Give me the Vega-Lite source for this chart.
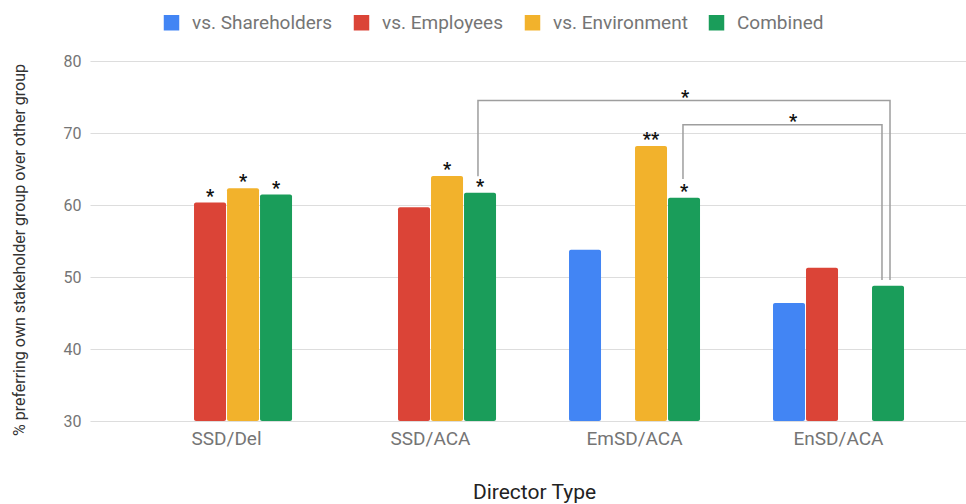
{
  "$schema": "https://vega.github.io/schema/vega-lite/v6.json",
  "width": 876,
  "height": 360,
  "autosize": {"type": "none"},
  "padding": {"left": 90, "top": 61, "right": 0, "bottom": 83},
  "background": "white",
  "config": {"view": {"stroke": null}, "font": "Roboto"},
  "datasets": {
    "bars": [
      {"director": "SSD/Del", "series": "vs. Employees", "value": 60.33, "sig": "*"},
      {"director": "SSD/Del", "series": "vs. Environment", "value": 62.33, "sig": "*"},
      {"director": "SSD/Del", "series": "Combined", "value": 61.45, "sig": "*"},
      {"director": "SSD/ACA", "series": "vs. Employees", "value": 59.7, "sig": ""},
      {"director": "SSD/ACA", "series": "vs. Environment", "value": 64.04, "sig": "*"},
      {"director": "SSD/ACA", "series": "Combined", "value": 61.7, "sig": "*"},
      {"director": "EmSD/ACA", "series": "vs. Shareholders", "value": 53.8, "sig": ""},
      {"director": "EmSD/ACA", "series": "vs. Environment", "value": 68.2, "sig": "**"},
      {"director": "EmSD/ACA", "series": "Combined", "value": 61.0, "sig": "*"},
      {"director": "EnSD/ACA", "series": "vs. Shareholders", "value": 46.4, "sig": ""},
      {"director": "EnSD/ACA", "series": "vs. Employees", "value": 51.3, "sig": ""},
      {"director": "EnSD/ACA", "series": "Combined", "value": 48.8, "sig": ""}
    ],
    "brackets": [
      {"b": "B1", "ord": 1, "u": 1.2328, "value": 64.0},
      {"b": "B1", "ord": 2, "u": 1.2328, "value": 74.5},
      {"b": "B1", "ord": 3, "u": 3.2525, "value": 74.5},
      {"b": "B1", "ord": 4, "u": 3.2525, "value": 49.6},
      {"b": "B2", "ord": 1, "u": 2.2377, "value": 63.6},
      {"b": "B2", "ord": 2, "u": 2.2377, "value": 71.16},
      {"b": "B2", "ord": 3, "u": 3.2132, "value": 71.16},
      {"b": "B2", "ord": 4, "u": 3.2132, "value": 49.6}
    ],
    "stars": [
      {"u": 2.2475, "value": 75.44, "t": "*"},
      {"u": 2.777, "value": 72.1, "t": "*"}
    ]
  },
  "layer": [
    {
      "data": {"name": "bars"},
      "layer": [
        {
          "mark": {"type": "bar", "cornerRadius": 2},
          "encoding": {
            "x": {
              "field": "director", "type": "nominal",
              "sort": ["SSD/Del", "SSD/ACA", "EmSD/ACA", "EnSD/ACA"],
              "scale": {"domain": ["SSD/Del", "SSD/ACA", "EmSD/ACA", "EnSD/ACA"], "paddingInner": 0.3578, "paddingOuter": 0.326, "align": 0.534},
              "axis": {
                "title": "Director Type", "labelAngle": 0, "labelFont": "Roboto", "labelFontSize": 19, "labelColor": "#757575",
                "labelPadding": 8, "ticks": false, "domain": false, "grid": false,
                "titleFont": "Roboto", "titleFontSize": 21, "titleFontWeight": "normal", "titleColor": "#222222",
                "titleX": 444, "titleY": 71, "titleBaseline": "middle", "titleAlign": "center"
              }
            },
            "xOffset": {
              "field": "series", "type": "nominal",
              "scale": {"domain": ["vs. Shareholders", "vs. Employees", "vs. Environment", "Combined"], "paddingInner": 0.0303, "paddingOuter": 0}
            },
            "y": {
              "field": "value", "type": "quantitative",
              "scale": {"domain": [30, 80], "zero": false, "nice": false},
              "axis": {
                "values": [30, 40, 50, 60, 70, 80], "labelFont": "Roboto", "labelFontSize": 16, "labelColor": "#757575",
                "labelPadding": 9, "ticks": false, "domain": false, "gridColor": "#dddddd", "gridWidth": 1,
                "title": "% preferring own stakeholder group over other group",
                "titleFont": "Roboto", "titleFontSize": 16, "titleFontWeight": "normal", "titleColor": "#333333",
                "titleX": -70.5, "titleY": 188.5, "titleBaseline": "middle", "titleAlign": "center"
              }
            },
            "y2": {"datum": 30},
            "color": {
              "field": "series", "type": "nominal",
              "scale": {"domain": ["vs. Shareholders", "vs. Employees", "vs. Environment", "Combined"], "range": ["#4285f4", "#db4437", "#f2b22c", "#1a9d5a"]},
              "legend": {
                "orient": "none", "legendX": 72, "legendY": -48, "direction": "horizontal", "columns": 4, "title": null,
                "symbolType": "square", "symbolSize": 240, "symbolStrokeWidth": 0, "symbolOpacity": 1,
                "labelFont": "Roboto", "labelFontSize": 19, "labelColor": "#757575", "labelOffset": 11,
                "columnPadding": 19, "padding": 0, "labelLimit": 300
              }
            }
          }
        },
        {
          "mark": {"type": "text", "baseline": "middle", "align": "center", "dy": -6, "fontSize": 18, "fontWeight": "bold", "font": "Roboto", "color": "#111111"},
          "encoding": {
            "x": {"field": "director", "type": "nominal", "sort": ["SSD/Del", "SSD/ACA", "EmSD/ACA", "EnSD/ACA"]},
            "xOffset": {"field": "series", "type": "nominal"},
            "y": {"field": "value", "type": "quantitative"},
            "text": {"field": "sig"}
          }
        }
      ]
    },
    {
      "layer": [
        {
          "data": {"name": "brackets"},
          "mark": {"type": "line", "color": "#9e9e9e", "strokeWidth": 1.5, "interpolate": "linear"},
          "encoding": {
            "x": {"field": "u", "type": "quantitative", "scale": {"domain": [-0.669, 3.625], "zero": false, "nice": false}, "axis": null},
            "y": {"field": "value", "type": "quantitative"},
            "detail": {"field": "b"},
            "order": {"field": "ord", "type": "quantitative"}
          }
        },
        {
          "data": {"name": "stars"},
          "mark": {"type": "text", "baseline": "middle", "align": "center", "dy": 4, "fontSize": 18, "fontWeight": "bold", "font": "Roboto", "color": "#111111"},
          "encoding": {
            "x": {"field": "u", "type": "quantitative"},
            "y": {"field": "value", "type": "quantitative"},
            "text": {"field": "t"}
          }
        }
      ]
    }
  ],
  "resolve": {"scale": {"x": "independent"}}
}
